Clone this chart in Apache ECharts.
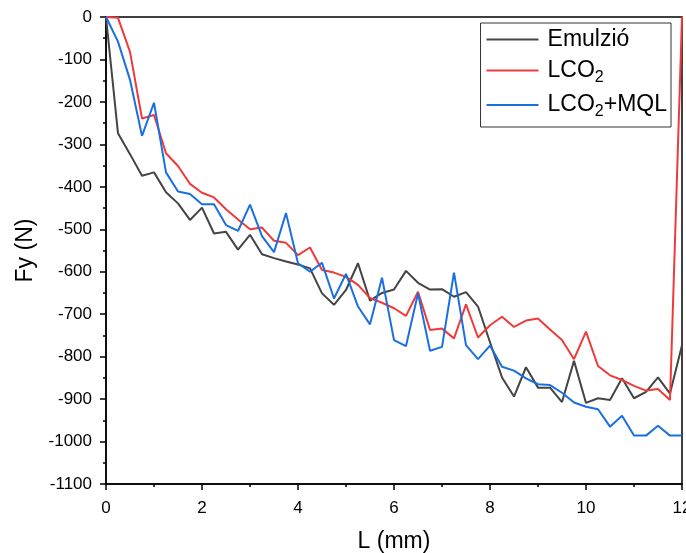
<!DOCTYPE html>
<html>
<head>
<meta charset="utf-8">
<script src="https://cdn.jsdelivr.net/npm/echarts@6/dist/echarts.min.js"></script>
<style>html,body{margin:0;padding:0;background:#fff;}#c{width:686px;height:553px;}</style>
</head>
<body>
<div id="c"></div>
<script>
var xStep = 0.25;
var xValues = [];
for (var i = 0; i <= 48; i++) xValues.push(i * xStep);

var emulzio = [0,-274,-323,-374,-366,-413,-439,-478,-449,-510,-506,-548,-513,-559,-568,-576,-583,-592,-651,-678,-643,-580,-668,-650,-642,-598,-626,-642,-641,-659,-648,-682,-766,-849,-894,-825,-873,-873,-907,-810,-909,-898,-902,-851,-898,-883,-849,-887,-773];
var lco2 = [0,-2,-82,-239,-231,-321,-351,-393,-414,-425,-453,-477,-500,-496,-527,-532,-561,-543,-596,-602,-612,-631,-662,-673,-686,-704,-647,-737,-734,-757,-677,-755,-726,-706,-730,-715,-710,-736,-761,-806,-741,-822,-844,-855,-869,-880,-876,-902,0];
var lco2mql = [0,-58,-148,-280,-202,-366,-411,-417,-441,-441,-490,-504,-442,-516,-554,-462,-580,-600,-579,-663,-605,-682,-724,-614,-761,-775,-651,-786,-777,-602,-773,-806,-774,-824,-833,-851,-865,-867,-885,-908,-918,-924,-965,-939,-986,-986,-963,-986,-986];

var seriesNames = ['Emulzió', 'LCO2', 'LCO2+MQL'];
var seriesColors = ['#444444', '#f03a3a', '#1a6fe0'];
var seriesData = [emulzio, lco2, lco2mql];

function pairs(arr) { return arr.map(function (v, i) { return [xValues[i], v]; }); }

var chart = echarts.init(document.getElementById('c'));
var font = 'Liberation Sans, Arial, sans-serif';
chart.setOption({
  animation: false,
  grid: { left: 106, right: 4, top: 17, bottom: 69, show: true, borderColor: '#000', borderWidth: 1.5, outerBoundsMode: 'none', containLabel: false },
  legend: {
    orient: 'vertical', right: 15, top: 23,
    backgroundColor: '#fff',
    borderColor: '#333', borderWidth: 1, borderRadius: 0,
    padding: [5, 4, 7, 6],
    icon: 'rect',
    itemWidth: 52, itemHeight: 2, itemGap: 8,
    data: seriesNames,
    formatter: function (n) {
      if (n === 'LCO2') return '{a|LCO}{s|2}';
      if (n === 'LCO2+MQL') return '{a|LCO}{s|2}{a|+MQL}';
      return '{a|' + n + '}';
    },
    textStyle: {
      fontFamily: font, fontSize: 23, color: '#000', padding: [0, 0, 0, 4],
      rich: {
        a: { fontFamily: font, fontSize: 23, color: '#000', lineHeight: 30, verticalAlign: 'middle' },
        s: { fontFamily: font, fontSize: 16, color: '#000', lineHeight: 30, verticalAlign: 'bottom' }
      }
    }
  },
  xAxis: {
    type: 'value', min: 0, max: 12, interval: 2,
    name: 'L (mm)', nameLocation: 'middle', nameGap: 46,
    nameTextStyle: { fontFamily: font, fontSize: 23, color: '#000' },
    axisLine: { onZero: false, lineStyle: { color: '#000', width: 1.5 } },
    axisTick: { show: true, inside: false, length: 6, lineStyle: { color: '#000', width: 1.5 } },
    minorTick: { show: true, splitNumber: 2, length: 3, lineStyle: { color: '#000', width: 1.5 } },
    axisLabel: { fontFamily: font, fontSize: 17, color: '#000', margin: 16, showMaxLabel: true },
    splitLine: { show: false }
  },
  yAxis: {
    type: 'value', min: -1100, max: 0, interval: 100,
    name: 'Fy (N)', nameLocation: 'middle', nameGap: 68,
    nameTextStyle: { fontFamily: font, fontSize: 23, color: '#000' },
    axisLine: { onZero: false, lineStyle: { color: '#000', width: 1.5 } },
    axisTick: { show: true, inside: false, length: 6, lineStyle: { color: '#000', width: 1.5 } },
    minorTick: { show: true, splitNumber: 2, length: 3, lineStyle: { color: '#000', width: 1.5 } },
    axisLabel: { fontFamily: font, fontSize: 17, color: '#000', margin: 14, formatter: function (v) { return String(v); } },
    splitLine: { show: false }
  },
  series: seriesNames.map(function (n, i) {
    return {
      name: n, type: 'line', data: pairs(seriesData[i]),
      showSymbol: false, symbol: 'none',
      color: seriesColors[i],
      lineStyle: { color: seriesColors[i], width: 2 },
      clip: true
    };
  })
});
</script>
</body>
</html>
